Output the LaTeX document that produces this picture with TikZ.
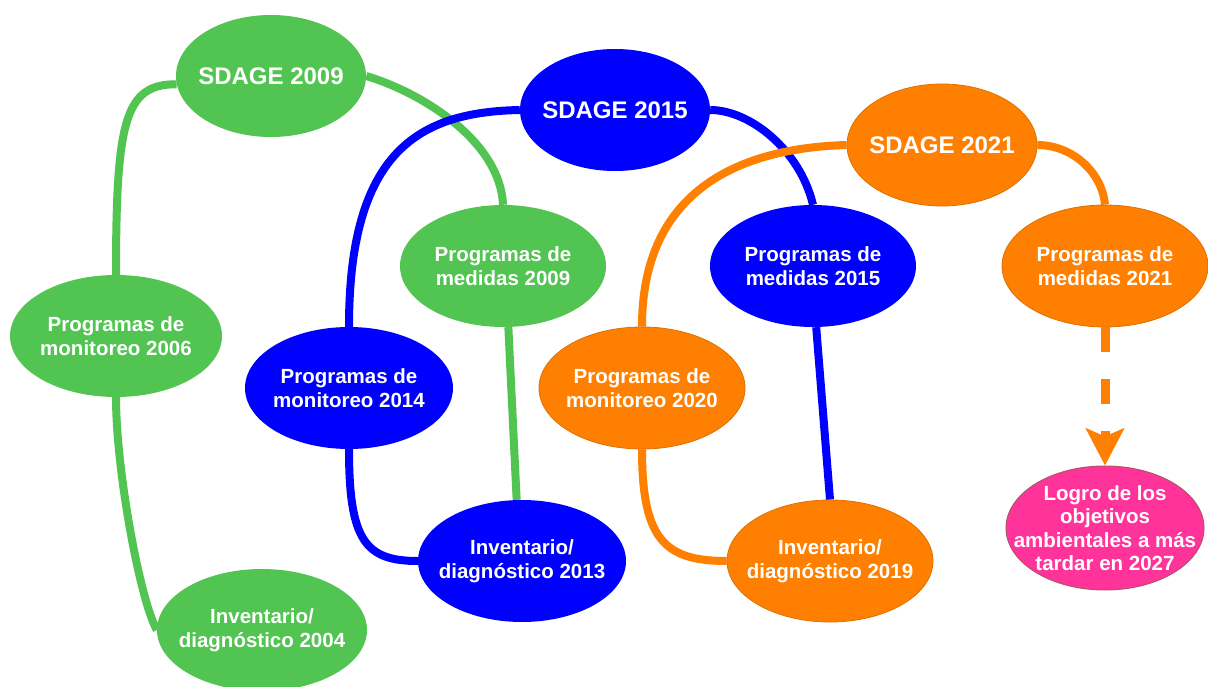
\documentclass[tikz,border=0pt]{standalone}
\usepackage{fontspec}
\setmainfont{Liberation Sans}
\usetikzlibrary{shapes.geometric,arrows.meta,backgrounds}
\definecolor{cgreen}{RGB}{82,196,82}
\definecolor{cblue}{RGB}{0,0,255}
\definecolor{corange}{RGB}{255,128,0}
\definecolor{cpink}{RGB}{255,51,153}
\definecolor{corangeline}{RGB}{222,112,0}
\definecolor{cpinkline}{RGB}{175,85,105}
\begin{document}
\begin{tikzpicture}[x=1pt,y=-1pt,
  bub/.style={ellipse, inner sep=0pt},
  big/.style={bub, minimum width=206pt, minimum height=122pt},
  sdage/.style={bub, minimum width=190pt, minimum height=122pt},
  gfill/.style={fill=cgreen},
  bfill/.style={fill=cblue},
  ofill/.style={fill=corange, draw=corangeline, line width=0.8pt},
  pfill/.style={fill=cpink, draw=cpinkline, line width=1pt},
  txt/.style={inner sep=0pt, text=white, align=center, font=\bfseries\fontsize{20.5}{24}\selectfont},
  stxt/.style={inner sep=0pt, text=white, align=center, font=\bfseries\fontsize{24}{28}\selectfont},
  conn/.style={line width=8pt}
]
\useasboundingbox (0,0) rectangle (1208,687);

% green
\node[sdage,gfill] (s09) at (271,76) {};
\node[stxt] (s09t) at (s09) {SDAGE 2009};
\node[big,gfill] (p09) at (503,266) {};
\node[txt] (p09t) at (p09) {Programas de\\medidas 2009};
\node[big,gfill,minimum width=212pt] (m06) at (116,336) {};
\node[txt] (m06t) at (m06) {Programas de\\monitoreo 2006};
\node[big,gfill,minimum width=210pt] (i04) at (262,630) {};
\node[txt] (i04t) at (i04) {Inventario/\\diagnóstico 2004};

% blue
\node[sdage,bfill] (s15) at (615,110) {};
\node[stxt] (s15t) at (s15) {SDAGE 2015};
\node[big,bfill] (p15) at (813,266) {};
\node[txt] (p15t) at (p15) {Programas de\\medidas 2015};
\node[big,bfill,minimum width=208pt] (m14) at (349,388) {};
\node[txt] (m14t) at (m14) {Programas de\\monitoreo 2014};
\node[big,bfill,minimum width=208pt] (i13) at (522,561) {};
\node[txt] (i13t) at (i13) {Inventario/\\diagnóstico 2013};

% orange
\node[sdage,ofill] (s21) at (942,145) {};
\node[stxt] (s21t) at (s21) {SDAGE 2021};
\node[big,ofill] (p21) at (1105,266) {};
\node[txt] (p21t) at (p21) {Programas de\\medidas 2021};
\node[big,ofill] (m20) at (642,388) {};
\node[txt] (m20t) at (m20) {Programas de\\monitoreo 2020};
\node[big,ofill] (i19) at (830,561) {};
\node[txt] (i19t) at (i19) {Inventario/\\diagnóstico 2019};

% pink
\node[bub,pfill,minimum width=198pt,minimum height=124pt] (goal) at (1105,528) {};
\node[txt,font=\bfseries\fontsize{20.5}{23.5}\selectfont] (goalt) at (goal) {Logro de los\\objetivos\\ambientales a más\\tardar en 2027};

\begin{pgfonlayer}{background}
\fill[white] (0,0) rectangle (1208,687);
% green connectors
\draw[conn,cgreen] (s09.185) .. controls (125,84) and (116,120) .. (m06.north);
\draw[conn,cgreen] (m06.south) .. controls (116,470) and (140,600) .. (i04.west);
\draw[conn,cgreen] (s09.east) .. controls (420,92) and (500,140) .. (p09.north);
\draw[conn,cgreen] (p09.-85) -- (i13.95);
% blue connectors
\draw[conn,cblue] (s15.west) .. controls (420,112) and (349,150) .. (m14.north);
\draw[conn,cblue] (s15.east) .. controls (750,110) and (800,150) .. (p15.north);
\draw[conn,cblue] (m14.south) .. controls (349,540) and (365,561) .. (i13.west);
\draw[conn,cblue] (p15.-87) -- (i19.north);
% orange connectors
\draw[conn,corange] (s21.west) .. controls (740,148) and (642,190) .. (m20.north);
\draw[conn,corange] (s21.east) .. controls (1072,145) and (1102,172) .. (p21.north);
\draw[conn,corange] (m20.south) .. controls (642,540) and (665,561) .. (i19.west);
\end{pgfonlayer}

\draw[corange, line width=9pt, dash pattern=on 25pt off 27pt,
  -{Stealth[length=37pt,width=38pt,inset=8pt]}] (p21.south) -- (goal.north);
\end{tikzpicture}
\end{document}
